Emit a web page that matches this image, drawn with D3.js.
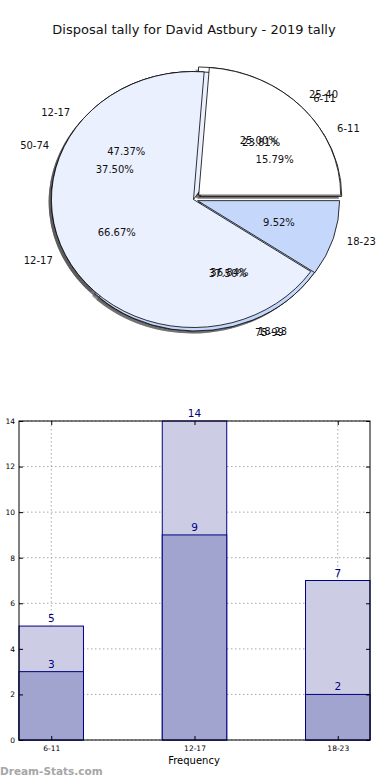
<!DOCTYPE html>
<html><head><meta charset="utf-8">
<script src="https://cdn.jsdelivr.net/npm/d3@7"></script>
<style>body{margin:0;background:#fff}svg{display:block}text{font-family:"DejaVu Sans",sans-serif}</style>
</head><body><svg id="c" width="390" height="780"></svg>
<script>
// ---- data ----
const title = "Disposal tally for David Astbury - 2019 tally";
// three overlaid pies (bottom to top)
const pieCLabels = ["25-40", "50-74", "75-99"];
const pieCValues = [2, 3, 3];
const pieBLabels = ["6-11", "12-17", "18-23"];
const pieBValues = [3, 9, 7];
const pieALabels = ["6-11", "12-17", "18-23"];
const pieAValues = [5, 14, 2];
const pieExplode = [0.05, 0, 0.03];
const pieColors = ["#ffffff", "#eaf0fd", "#c5d8fc"];
// bars
const barCategories = ["6-11", "12-17", "18-23"];
const barTotal = [5, 14, 7];
const barPart = [3, 9, 2];
const yTicks = [0, 2, 4, 6, 8, 10, 12, 14];

const svg = d3.select("#c");
svg.append("text").attr("x", 194).attr("y", 30).attr("text-anchor", "middle")
  .attr("dominant-baseline", "middle").attr("font-size", 13).attr("fill", "#111").text(title);

// ---- pies ----
const cx = 193.5, cy = 199.5, rx = 142, ry = 128;
const pies = [
  {labels: pieCLabels, values: pieCValues},
  {labels: pieBLabels, values: pieBValues},
  {labels: pieALabels, values: pieAValues}
];
const pieGen = d3.pie().sort(null).startAngle(Math.PI / 2).endAngle(Math.PI / 2 - 2 * Math.PI);
const arc = d3.arc().innerRadius(0).outerRadius(1);
const shadowG = svg.append("g");
const wedgeG = svg.append("g");
const textG = svg.append("g");
pies.forEach(p => {
  const arcs = pieGen(p.values);
  const total = d3.sum(p.values);
  arcs.forEach((a, i) => {
    const mid = Math.PI / 2 - (a.startAngle + a.endAngle) / 2;
    const e = pieExplode[i];
    const ox = cx + e * rx * Math.cos(mid), oy = cy - e * ry * Math.sin(mid);
    const d = arc({startAngle: Math.min(a.startAngle, a.endAngle), endAngle: Math.max(a.startAngle, a.endAngle)});
    shadowG.append("path").attr("d", d)
      .attr("transform", `translate(${ox - 0.02 * rx},${oy + 0.02 * ry}) scale(${rx},${ry})`)
      .attr("fill", "#4c4c4c").attr("opacity", 0.55);
    wedgeG.append("path").attr("d", d)
      .attr("transform", `translate(${ox},${oy}) scale(${rx},${ry})`)
      .attr("fill", pieColors[i]).attr("stroke", "#000").attr("stroke-width", 0.8)
      .attr("vector-effect", "non-scaling-stroke");
    const lx = ox + 1.1 * rx * Math.cos(mid), ly = oy - 1.1 * ry * Math.sin(mid);
    textG.append("text").attr("x", lx).attr("y", ly)
      .attr("text-anchor", Math.cos(mid) >= 0 ? "start" : "end")
      .attr("dominant-baseline", "middle").attr("font-size", 10).attr("fill", "#111")
      .text(p.labels[i]);
    const px = ox + 0.6 * rx * Math.cos(mid), py = oy - 0.6 * ry * Math.sin(mid);
    textG.append("text").attr("x", px).attr("y", py).attr("text-anchor", "middle")
      .attr("dominant-baseline", "middle").attr("font-size", 10).attr("fill", "#111")
      .text((p.values[i] / total * 100).toFixed(2) + "%");
  });
});

// ---- bar chart ----
const L = 19, R = 370, T = 421, B = 740;
const x = d3.scaleLinear().domain([-0.225, barCategories.length - 1 + 0.225]).range([L, R]);
const y = d3.scaleLinear().domain([0, 14]).range([B, T]);
const bw = 0.45;
const g = svg.append("g");
g.selectAll(".gy").data(yTicks).join("line")
  .attr("x1", L).attr("x2", R).attr("y1", d => y(d)).attr("y2", d => y(d))
  .attr("stroke", "#a8a8a8").attr("stroke-width", 1).attr("stroke-dasharray", "1.5,2.5");
g.selectAll(".gx").data(barCategories).join("line")
  .attr("x1", (d, i) => x(i)).attr("x2", (d, i) => x(i)).attr("y1", T).attr("y2", B)
  .attr("stroke", "#a8a8a8").attr("stroke-width", 1).attr("stroke-dasharray", "1.5,2.5");
g.selectAll(".bt").data(barTotal).join("rect")
  .attr("x", (d, i) => x(i - bw / 2)).attr("width", x(bw) - x(0))
  .attr("y", d => y(d)).attr("height", d => B - y(d))
  .attr("fill", "#ccccE4").attr("stroke", "#000080").attr("stroke-width", 1);
g.selectAll(".bp").data(barPart).join("rect")
  .attr("x", (d, i) => x(i - bw / 2)).attr("width", x(bw) - x(0))
  .attr("y", d => y(d)).attr("height", d => B - y(d))
  .attr("fill", "#a2a4d0").attr("stroke", "#000080").attr("stroke-width", 1);
[barTotal, barPart].forEach(arr => {
  g.selectAll(null).data(arr).join("text")
    .attr("x", (d, i) => x(i)).attr("y", d => y(d) - 4)
    .attr("text-anchor", "middle").attr("font-size", 10.5).attr("fill", "#000080")
    .text(d => d);
});
g.append("rect").attr("x", L).attr("y", T).attr("width", R - L).attr("height", B - T)
  .attr("fill", "none").attr("stroke", "#000").attr("stroke-width", 1);
const yAxisL = d3.axisLeft(y).tickValues(yTicks).tickSizeInner(-4).tickSizeOuter(0).tickPadding(4);
const yAxisR = d3.axisRight(y).tickValues(yTicks).tickSizeInner(-4).tickSizeOuter(0).tickFormat("");
const xAxisB = d3.axisBottom(x).tickValues(d3.range(barCategories.length)).tickSizeInner(-4).tickSizeOuter(0)
  .tickPadding(6).tickFormat(i => barCategories[i]);
const xAxisT = d3.axisTop(x).tickValues(d3.range(barCategories.length)).tickSizeInner(-4).tickSizeOuter(0).tickFormat("");
[[yAxisL, `translate(${L},0)`], [yAxisR, `translate(${R},0)`], [xAxisB, `translate(0,${B})`], [xAxisT, `translate(0,${T})`]]
  .forEach(([ax, tr]) => {
    const a = g.append("g").attr("transform", tr).call(ax);
    a.select(".domain").remove();
    a.selectAll("line").attr("stroke", "#000");
    a.selectAll("text").attr("font-size", 7.5).attr("fill", "#000").attr("font-family", "DejaVu Sans");
  });
svg.append("text").attr("x", 194).attr("y", 764).attr("text-anchor", "middle")
  .attr("font-size", 10).attr("fill", "#000").text("Frequency");
svg.append("text").attr("x", 0).attr("y", 775).attr("font-size", 10.5).attr("font-weight", "bold")
  .attr("fill", "#a6a6a6").text("Dream-Stats.com");
</script></body></html>
